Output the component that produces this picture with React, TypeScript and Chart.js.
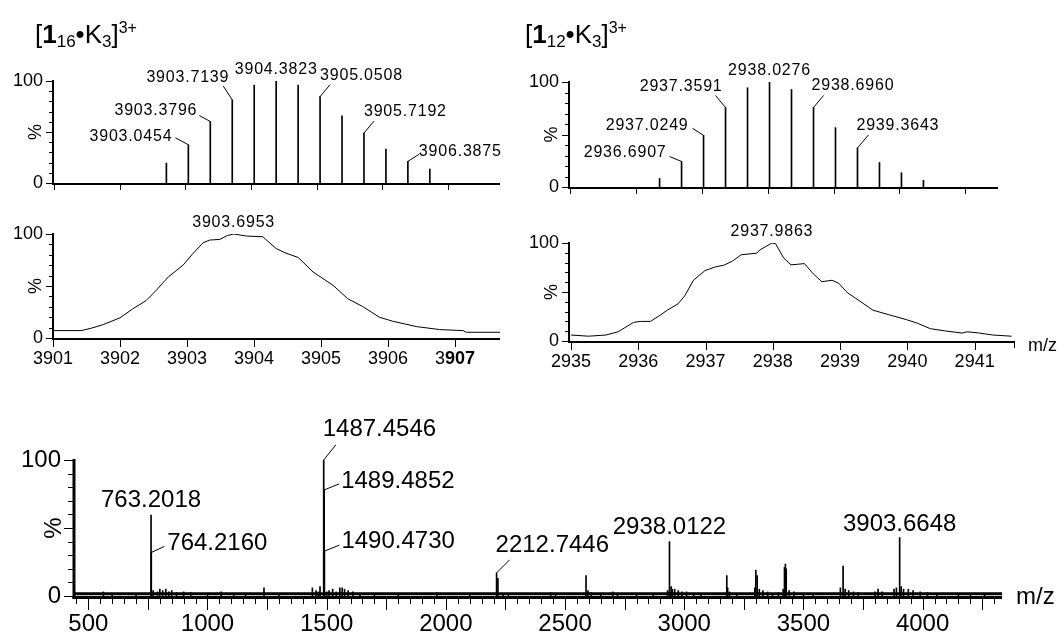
import React, { useEffect, useRef } from 'react';
import { Chart, registerables } from 'chart.js';

Chart.register(...registerables);

const FONT = "'Liberation Sans', Arial, Helvetica, sans-serif";
const INK = '#000';
const PAGE_W = 1058;
const PAGE_H = 636;

// ---------------- Panel A: [1_16•K_3]3+ calculated isotope pattern ----------------
const isoA_mz = [3902.7112, 3903.0454, 3903.3796, 3903.7139, 3904.0481, 3904.3823, 3904.7165, 3905.0508, 3905.385, 3905.7192, 3906.0534, 3906.3875, 3906.7217];
const isoA_int = [19.5, 37.5, 60.3, 81.4, 96, 100, 96, 84.7, 65.8, 48.9, 33.2, 21.2, 13.7];
const isoA_ticks = [3901, 3902, 3903, 3904, 3905, 3906, 3907];

// ---------------- Panel B: [1_12•K_3]3+ calculated isotope pattern ----------------
const isoB_mz = [2936.3565, 2936.6907, 2937.0249, 2937.3591, 2937.6933, 2938.0276, 2938.3618, 2938.696, 2939.0302, 2939.3643, 2939.6985, 2940.0327, 2940.3669];
const isoB_int = [8.1, 24.3, 49.2, 75.7, 94.5, 100, 92.9, 75.7, 56.6, 37.2, 23.3, 13.6, 6.5];
const isoB_ticks = [2935, 2936, 2937, 2938, 2939, 2940, 2941];

// ---------------- Panel C: measured profile around 3903.7 ----------------
const profC_mz = [3901.0, 3901.42, 3901.57, 3901.75, 3902.0, 3902.19, 3902.39, 3902.54, 3902.72, 3902.94, 3903.09, 3903.24, 3903.34, 3903.49, 3903.6, 3903.6953, 3903.89, 3904.13, 3904.33, 3904.46, 3904.66, 3904.88, 3905.18, 3905.4, 3905.62, 3905.87, 3906.07, 3906.42, 3906.77, 3907.12, 3907.17, 3907.67];
const profC_int = [7.1, 7.1, 9.4, 12.9, 19.4, 28, 36, 45.8, 58.7, 70, 81.3, 91.6, 94.2, 94.8, 98.5, 100, 98, 97.4, 86, 82, 77.4, 63.5, 50.6, 37.7, 30.3, 20, 16.1, 11, 8.1, 7.1, 5.5, 5.5];
const profC_ticks = [3901, 3902, 3903, 3904, 3905, 3906, 3907];

// ---------------- Panel D: measured profile around 2938.0 ----------------
const profD_mz = [2935.0, 2935.26, 2935.52, 2935.7, 2935.93, 2936.03, 2936.18, 2936.33, 2936.43, 2936.59, 2936.69, 2936.82, 2936.99, 2937.15, 2937.27, 2937.4, 2937.53, 2937.76, 2937.81, 2937.9863, 2938.04, 2938.16, 2938.27, 2938.37, 2938.47, 2938.6, 2938.73, 2938.88, 2938.98, 2939.11, 2939.23, 2939.49, 2939.74, 2939.99, 2940.14, 2940.34, 2940.55, 2940.81, 2940.89, 2941.07, 2941.27, 2941.55];
const profD_int = [6.1, 4.9, 6.1, 9.4, 19, 20, 20, 26.5, 31.4, 37.9, 46, 62, 71.8, 75.7, 77.3, 81.5, 88, 89.6, 93, 100, 99.4, 84.8, 77.7, 78.3, 79, 68.6, 60.5, 62, 58.9, 49.2, 43.7, 31.4, 26.5, 21.7, 18.4, 12.6, 10.4, 8.1, 9.4, 8.1, 6.1, 4.9];
const profD_ticks = [2935, 2936, 2937, 2938, 2939, 2940, 2941];

// ---------------- Panel E: full spectrum ----------------
const specE_mz = [763.2018, 764.216, 1487.4546, 1489.4852, 1490.473, 2212.7446, 2218.4, 2588.0, 2938.0122, 3178.5, 3300.2, 3306.0, 3420.5, 3424.3, 3427.8, 3666.4, 3903.6648];
const specE_int = [59.5, 32, 100, 78, 33, 17, 13, 15, 40, 15, 19, 15, 21, 23.5, 20, 22, 43];
const noiseE_mz = [563, 600, 700, 772, 790, 800, 812, 825, 838, 850, 870, 900, 930, 1000, 1057, 1110, 1160, 1237, 1300, 1440, 1455, 1465, 1472, 1500, 1510, 1525, 1540, 1555, 1565, 1575, 1590, 1610, 1640, 1700, 1800, 1963, 2100, 2240, 2262, 2440, 2460, 2596, 2610, 2650, 2700, 2720, 2800, 2870, 2930, 2945, 2950, 2960, 2975, 2990, 3010, 3040, 3070, 3182, 3190, 3220, 3296, 3315, 3330, 3350, 3370, 3395, 3415, 3440, 3460, 3500, 3540, 3655, 3675, 3690, 3710, 3730, 3800, 3813, 3830, 3880, 3890, 3910, 3920, 3940, 3960, 3990, 4020, 4060, 4150, 4200, 4260];
const noiseE_int = [3, 1.5, 2, 4, 3, 5, 4, 5, 3, 4, 2.5, 3, 2.5, 2, 3, 2, 2, 6, 1.5, 6, 4, 3, 7, 3, 4, 5, 3, 6, 6, 5, 4, 3, 2, 2, 1.5, 2.5, 1.5, 2, 2, 2.5, 2, 4, 2.5, 1.5, 3, 2, 2, 2, 4, 7, 5, 5, 4, 3, 3, 2, 2, 6, 3, 2, 6, 5, 4, 3, 2, 2.5, 5, 4, 3, 2, 2, 6, 5, 4, 3, 2.5, 3, 5, 3, 5, 6, 7, 5, 5, 4, 3, 2.5, 2, 2, 2, 1.5];
const baseE_mz = [440, 4333];
const baseE_int = [1.6, 1.6];
const specE_ticks = [500, 1000, 1500, 2000, 2500, 3000, 3500, 4000];
const specE_midTicks = [750, 1250, 1750, 2250, 2750, 3250, 3750, 4250];

// ---------------- Titles ----------------
type Seg = { t: string; size: number; bold?: boolean; dy?: number };
const titleA: Seg[] = [
  { t: '[', size: 26 }, { t: '1', size: 26, bold: true }, { t: '16', size: 17, dy: 4 },
  { t: '•', size: 26 }, { t: 'K', size: 26 }, { t: '3', size: 17, dy: 4 }, { t: ']', size: 26 }, { t: '3+', size: 16, dy: -10 },
];
const titleB: Seg[] = [
  { t: '[', size: 26 }, { t: '1', size: 26, bold: true }, { t: '12', size: 17, dy: 4 },
  { t: '•', size: 26 }, { t: 'K', size: 26 }, { t: '3', size: 17, dy: 4 }, { t: ']', size: 26 }, { t: '3+', size: 16, dy: -10 },
];

type Ann = { mz: number; align: CanvasTextAlign; dx: number; dy: number; lx?: number; ly?: number };

const annA: Ann[] = [
  { mz: 3903.0454, align: 'right', dx: -16, dy: -8, lx: -13, ly: -7 },
  { mz: 3903.3796, align: 'right', dx: -13, dy: -11, lx: -11, ly: -6 },
  { mz: 3903.7139, align: 'right', dx: -3, dy: -22, lx: -9, ly: -14 },
  { mz: 3904.3823, align: 'center', dx: 0, dy: -11 },
  { mz: 3905.0508, align: 'left', dx: 0, dy: -21, lx: 10, ly: -12 },
  { mz: 3905.7192, align: 'left', dx: 0, dy: -22, lx: 10, ly: -12 },
  { mz: 3906.3875, align: 'left', dx: 11, dy: -10, lx: 11, ly: -7 },
];
const annB: Ann[] = [
  { mz: 2936.6907, align: 'right', dx: -15, dy: -9, lx: -12, ly: -5 },
  { mz: 2937.0249, align: 'right', dx: -15, dy: -10, lx: -11, ly: -7 },
  { mz: 2937.3591, align: 'right', dx: -3, dy: -21, lx: -10, ly: -12 },
  { mz: 2938.0276, align: 'center', dx: 0, dy: -11 },
  { mz: 2938.696, align: 'left', dx: -2, dy: -22, lx: 10, ly: -12 },
  { mz: 2939.3643, align: 'left', dx: -1, dy: -22, lx: 11, ly: -13 },
];
const annC: Ann[] = [{ mz: 3903.6953, align: 'center', dx: 0, dy: -11 }];
const annD: Ann[] = [{ mz: 2937.9863, align: 'center', dx: 0, dy: -11 }];
const annE: Ann[] = [
  { mz: 763.2018, align: 'center', dx: 0, dy: -15 },
  { mz: 764.216, align: 'left', dx: 16, dy: -9, lx: 13, ly: -6 },
  { mz: 1487.4546, align: 'left', dx: -1, dy: -31, lx: 12, ly: -15 },
  { mz: 1489.4852, align: 'left', dx: 17, dy: -9, lx: 15, ly: -6 },
  { mz: 1490.473, align: 'left', dx: 17, dy: -10, lx: 15, ly: -6 },
  { mz: 2212.7446, align: 'left', dx: -1, dy: -28, lx: 13, ly: -13 },
  { mz: 2938.0122, align: 'center', dx: 0, dy: -14 },
  { mz: 3903.6648, align: 'center', dx: 0, dy: -13 },
];

const pts = (xs: number[], ys: number[]) => xs.map((x, i) => ({ x, y: ys[i] }));

type Spec = {
  key: string;
  pad: { left: number; top: number; right: number; bottom: number };
  yW: number; xH: number;
  xMin: number; xMax: number;
  xTicks: number[]; xLabels: boolean; xPad: number;
  xLongTicks: number[]; xLongLen: number;
  xShortTicks: number[]; xShortLen: number;
  axisW: number; yLong: number; yShort: number; yPad: number;
  tickFont: number; labelFont: number; labelSpacing: number;
  pctOffset: number;
  datasets: any[];
  anns: Ann[]; annX: number[]; annY: number[];
  title?: Seg[]; titleX?: number; titleY?: number;
  mzLabel?: { dx: number; dy: number };
  endTick?: number;
  boldLast?: boolean;
};

const barSet = (xs: number[], ys: number[], w = 1) => ({
  type: 'bar', data: pts(xs, ys), backgroundColor: INK, borderWidth: 0, barThickness: w, grouped: false,
});
const lineSet = (xs: number[], ys: number[], w = 1) => ({
  type: 'line', data: pts(xs, ys), borderColor: INK, borderWidth: w, pointRadius: 0, tension: 0, fill: false,
});

function range(a: number, b: number, step: number) {
  const out: number[] = [];
  for (let v = a; v <= b + 1e-9; v += step) out.push(v);
  return out;
}

const specs: Spec[] = [
  {
    key: 'A', pad: { left: 53, top: 81, right: PAGE_W - 500, bottom: PAGE_H - 183 }, yW: 50, xH: 40,
    xMin: 3900.985, xMax: 3907.79, xTicks: isoA_ticks, xLabels: false, xPad: 12,
    xLongTicks: isoA_ticks, xLongLen: 7, xShortTicks: [], xShortLen: 0,
    axisW: 2, yLong: 7, yShort: 4, yPad: 10, tickFont: 18, labelFont: 16, labelSpacing: 0.8, pctOffset: 17,
    datasets: [barSet(isoA_mz, isoA_int)], anns: annA, annX: isoA_mz, annY: isoA_int,
    title: titleA, titleX: 35, titleY: 43,
  },
  {
    key: 'B', pad: { left: 569, top: 82, right: PAGE_W - 998, bottom: PAGE_H - 187 }, yW: 50, xH: 40,
    xMin: 2934.98, xMax: 2941.5, xTicks: isoB_ticks, xLabels: false, xPad: 12,
    xLongTicks: isoB_ticks, xLongLen: 7, xShortTicks: [], xShortLen: 0,
    axisW: 2, yLong: 7, yShort: 4, yPad: 10, tickFont: 18, labelFont: 16, labelSpacing: 0.8, pctOffset: 17,
    datasets: [barSet(isoB_mz, isoB_int)], anns: annB, annX: isoB_mz, annY: isoB_int,
    title: titleB, titleX: 525, titleY: 43,
  },
  {
    key: 'C', pad: { left: 53, top: 234, right: PAGE_W - 500, bottom: PAGE_H - 338 }, yW: 50, xH: 40,
    xMin: 3901, xMax: 3907.67, xTicks: profC_ticks, xLabels: true, xPad: 12,
    xLongTicks: profC_ticks, xLongLen: 9, xShortTicks: [], xShortLen: 0,
    axisW: 2, yLong: 7, yShort: 4, yPad: 10, tickFont: 18, labelFont: 16, labelSpacing: 0.8, pctOffset: 17,
    datasets: [lineSet(profC_mz, profC_int)], anns: annC, annX: profC_mz, annY: profC_int,
    boldLast: true,
  },
  {
    key: 'D', pad: { left: 569, top: 243, right: PAGE_W - 1015, bottom: PAGE_H - 341 }, yW: 50, xH: 40,
    xMin: 2934.97, xMax: 2941.6, xTicks: profD_ticks, xLabels: true, xPad: 12,
    xLongTicks: profD_ticks, xLongLen: 9, xShortTicks: [], xShortLen: 0,
    axisW: 2, yLong: 7, yShort: 4, yPad: 10, tickFont: 18, labelFont: 16, labelSpacing: 0.8, pctOffset: 17,
    datasets: [lineSet(profD_mz, profD_int)], anns: annD, annX: profD_mz, annY: profD_int,
    mzLabel: { dx: 13, dy: 5 }, endTick: 7,
  },
  {
    key: 'E', pad: { left: 74, top: 460, right: PAGE_W - 1002, bottom: PAGE_H - 596 }, yW: 70, xH: 40,
    xMin: 440, xMax: 4333, xTicks: specE_ticks, xLabels: true, xPad: 16,
    xLongTicks: [...specE_ticks, ...specE_midTicks], xLongLen: 14, xShortTicks: range(450, 4300, 50), xShortLen: 8,
    axisW: 3, yLong: 10, yShort: 6, yPad: 13, tickFont: 24, labelFont: 24, labelSpacing: 0, pctOffset: 20,
    datasets: [barSet(noiseE_mz, noiseE_int), barSet(specE_mz, specE_int), lineSet(baseE_mz, baseE_int, 3)],
    anns: annE, annX: specE_mz, annY: specE_int,
    mzLabel: { dx: 14, dy: 1 },
  },
];

function drawRich(ctx: CanvasRenderingContext2D, x: number, y: number, segs: Seg[]) {
  let cx = x;
  ctx.textAlign = 'left';
  ctx.textBaseline = 'alphabetic';
  for (const s of segs) {
    ctx.font = `${s.bold ? 'bold ' : ''}${s.size}px ${FONT}`;
    ctx.fillText(s.t, cx, y + (s.dy || 0));
    cx += ctx.measureText(s.t).width;
  }
}

function makeDecor(s: Spec) {
  return {
    id: 'decor' + s.key,
    afterDatasetsDraw(chart: any) {
      const { ctx, chartArea: a } = chart;
      const xs = chart.scales.x;
      const ys = chart.scales.y;
      const y0 = ys.getPixelForValue(0);
      const y100 = ys.getPixelForValue(100);
      const ym = ys.getPixelForValue(50);
      ctx.save();
      ctx.strokeStyle = INK;
      ctx.fillStyle = INK;
      const seg = (x1: number, y1: number, x2: number, y2: number) => {
        ctx.beginPath(); ctx.moveTo(x1, y1); ctx.lineTo(x2, y2); ctx.stroke();
      };
      // axes
      ctx.lineWidth = s.axisW;
      seg(a.left, y100 - 1, a.left, y0 + s.axisW);
      seg(a.left - s.axisW / 2, y0 + s.axisW / 2, a.right, y0 + s.axisW / 2);
      // y ticks
      ctx.lineWidth = 1;
      for (let v = 0; v <= 100; v += 10) {
        const py = Math.round(ys.getPixelForValue(v)) + 0.5;
        const len = v % 50 === 0 ? s.yLong : s.yShort;
        seg(a.left - len, py, a.left, py);
      }
      // x ticks
      s.xShortTicks.forEach((v) => {
        const px = Math.round(xs.getPixelForValue(v)) + 0.5;
        seg(px, y0, px, y0 + s.xShortLen);
      });
      s.xLongTicks.forEach((v) => {
        const px = Math.round(xs.getPixelForValue(v)) + 0.5;
        seg(px, y0, px, y0 + s.xLongLen);
      });
      if (s.endTick) {
        const px = Math.round(a.right) - 0.5;
        seg(px, y0, px, y0 + s.endTick);
      }
      // peak labels
      ctx.font = `${s.labelFont}px ${FONT}`;
      (ctx as any).letterSpacing = `${s.labelSpacing}px`;
      ctx.textBaseline = 'middle';
      s.anns.forEach((an) => {
        const i = s.annX.indexOf(an.mz);
        const px = xs.getPixelForValue(an.mz);
        const py = ys.getPixelForValue(i >= 0 ? s.annY[i] : 100);
        if (an.lx !== undefined && an.ly !== undefined) {
          seg(px, py, px + an.lx, py + an.ly);
        }
        ctx.textAlign = an.align;
        ctx.fillText(an.mz.toFixed(4), px + an.dx, py + an.dy);
      });
      (ctx as any).letterSpacing = '0px';
      // % axis title
      ctx.save();
      ctx.translate(a.left - s.pctOffset, ym);
      ctx.rotate(-Math.PI / 2);
      ctx.font = `${s.tickFont}px ${FONT}`;
      ctx.textAlign = 'center';
      ctx.textBaseline = 'middle';
      ctx.fillText('%', 0, 0);
      ctx.restore();
      // m/z
      if (s.mzLabel) {
        ctx.font = `${s.tickFont}px ${FONT}`;
        ctx.textAlign = 'left';
        ctx.textBaseline = 'middle';
        ctx.fillText('m/z', a.right + s.mzLabel.dx, y0 + s.mzLabel.dy);
      }
      // last tick label with bold digits (as in the original print)
      if (s.boldLast) {
        const v = s.xTicks[s.xTicks.length - 1];
        const txt = String(v);
        const px = xs.getPixelForValue(v);
        const py = y0 + s.xPad + s.tickFont / 2;
        ctx.textBaseline = 'middle';
        ctx.textAlign = 'left';
        ctx.font = `${s.tickFont}px ${FONT}`;
        const w1 = ctx.measureText(txt.slice(0, 1)).width;
        ctx.font = `bold ${s.tickFont}px ${FONT}`;
        const w2 = ctx.measureText(txt.slice(1)).width;
        const start = px - (w1 + w2) / 2;
        ctx.font = `${s.tickFont}px ${FONT}`;
        ctx.fillText(txt.slice(0, 1), start, py);
        ctx.font = `bold ${s.tickFont}px ${FONT}`;
        ctx.fillText(txt.slice(1), start + w1, py);
      }
      // title
      if (s.title) drawRich(ctx, s.titleX || 0, s.titleY || 0, s.title);
      ctx.restore();
    },
  };
}

function buildConfig(s: Spec): any {
  return {
    type: 'bar',
    data: { datasets: s.datasets },
    options: {
      responsive: false,
      maintainAspectRatio: false,
      animation: false,
      devicePixelRatio: 1,
      events: [],
      layout: {
        padding: { left: s.pad.left - s.yW, top: s.pad.top, right: s.pad.right, bottom: s.pad.bottom - s.xH },
      },
      plugins: { legend: { display: false }, tooltip: { enabled: false }, title: { display: false } },
      scales: {
        x: {
          type: 'linear', min: s.xMin, max: s.xMax, offset: false,
          grid: { display: false, drawTicks: false, offset: false }, border: { display: false },
          afterFit: (sc: any) => { sc.height = s.xH; },
          afterBuildTicks: (sc: any) => { sc.ticks = s.xTicks.map((v) => ({ value: v })); },
          ticks: {
            display: s.xLabels, autoSkip: false, maxRotation: 0, minRotation: 0, padding: s.xPad, color: INK,
            font: { family: FONT, size: s.tickFont, lineHeight: 1 },
            callback: (v: number) => (s.boldLast && v === s.xTicks[s.xTicks.length - 1] ? '' : String(v)),
          },
        },
        y: {
          type: 'linear', min: 0, max: 100,
          grid: { display: false, drawTicks: false }, border: { display: false },
          afterFit: (sc: any) => { sc.width = s.yW; },
          afterBuildTicks: (sc: any) => { sc.ticks = range(0, 100, 10).map((v) => ({ value: v })); },
          ticks: {
            autoSkip: false, padding: s.yPad, color: INK,
            font: { family: FONT, size: s.tickFont, lineHeight: 1 },
            callback: (v: number) => (v === 0 || v === 100 ? String(v) : ''),
          },
        },
      },
    },
    plugins: [makeDecor(s)],
  };
}

function Panel({ spec }: { spec: Spec }) {
  const ref = useRef<HTMLCanvasElement | null>(null);
  useEffect(() => {
    if (!ref.current) return;
    const chart = new Chart(ref.current, buildConfig(spec));
    return () => chart.destroy();
  }, [spec]);
  return (
    <canvas
      ref={ref}
      width={PAGE_W}
      height={PAGE_H}
      style={{ position: 'absolute', left: 0, top: 0, width: PAGE_W, height: PAGE_H }}
    />
  );
}

export default function App() {
  return (
    <div style={{ position: 'absolute', left: 0, top: 0, width: PAGE_W, height: PAGE_H, background: '#fff', overflow: 'hidden' }}>
      {specs.map((s) => (
        <Panel key={s.key} spec={s} />
      ))}
    </div>
  );
}
